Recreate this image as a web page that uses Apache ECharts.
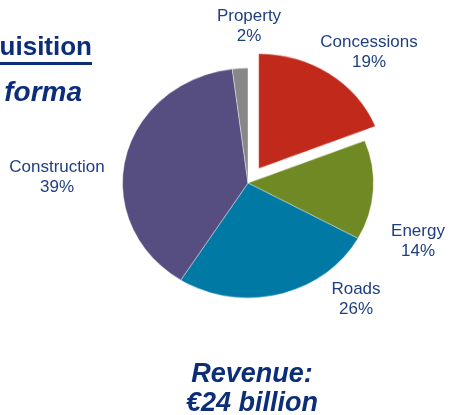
<!DOCTYPE html>
<html>
<head>
<meta charset="utf-8">
<script src="https://cdn.jsdelivr.net/npm/echarts@6/dist/echarts.min.js"></script>
<style>
  html, body { margin: 0; padding: 0; background: #fff; }
  .wrap { position: relative; width: 450px; height: 415px; overflow: hidden; }
  /* the source pie is slightly flattened, so squash only the pie layer */
  #pie { position: absolute; left: 0; top: 0; width: 450px; height: 415px;
         transform: scaleY(0.916); transform-origin: 0 183px; }
  #text { position: absolute; left: 0; top: 0; width: 450px; height: 415px; }
</style>
</head>
<body>
<div class="wrap">
  <div id="pie"></div>
  <div id="text"></div>
</div>
<script>
// revenue split, pro forma (%)
var categories = ['Concessions', 'Energy', 'Roads', 'Construction', 'Property'];
var values = [19, 14, 26, 39, 2];
var colors = ['#c12a1b', '#6f8a24', '#0079a5', '#564e80', '#878787'];
// label anchor (centre of the two-line label)
var labelPos = [[369, 52], [418, 241], [356, 299], [57, 177], [249, 26]];

var pieChart = echarts.init(document.getElementById('pie'));
pieChart.setOption({
  animation: false,
  series: [{
    type: 'pie',
    center: [248, 183],
    radius: [0, 125.5],
    startAngle: 90,
    clockwise: true,
    selectedMode: 'single',
    selectedOffset: 19,
    silent: true,
    label: { show: false },
    labelLine: { show: false },
    itemStyle: { borderColor: '#ffffff', borderWidth: 0.4 },
    data: categories.map(function (name, i) {
      return { name: name, value: values[i], selected: i === 0, itemStyle: { color: colors[i] } };
    })
  }]
});

var textChart = echarts.init(document.getElementById('text'));
var labelColor = '#1f3f80';
var navy = '#0c2e78';
var elements = categories.map(function (name, i) {
  return {
    type: 'text',
    x: labelPos[i][0],
    y: labelPos[i][1],
    style: {
      text: name + '\n' + values[i] + '%',
      fill: labelColor,
      font: '17px "Liberation Sans", Arial, sans-serif',
      lineHeight: 20,
      align: 'center',
      verticalAlign: 'middle'
    }
  };
});
elements.push(
  {
    type: 'text', x: 92, y: 48,
    style: { text: 'Acquisition', fill: navy, font: 'bold 26px "Liberation Sans", Arial, sans-serif',
             align: 'right', verticalAlign: 'middle' }
  },
  { type: 'rect', shape: { x: 0, y: 62, width: 92, height: 3 }, style: { fill: navy } },
  {
    type: 'text', x: 82, y: 93,
    style: { text: 'Pro forma', fill: navy, font: 'italic bold 28px "Liberation Sans", Arial, sans-serif',
             align: 'right', verticalAlign: 'middle' }
  },
  {
    type: 'text', x: 252, y: 389,
    style: { text: 'Revenue:\n\u20ac24 billion', fill: navy,
             font: 'italic bold 27px "Liberation Sans", Arial, sans-serif',
             lineHeight: 29, align: 'center', verticalAlign: 'middle' }
  }
);
textChart.setOption({
  animation: false,
  graphic: { elements: elements }
});
</script>
</body>
</html>
